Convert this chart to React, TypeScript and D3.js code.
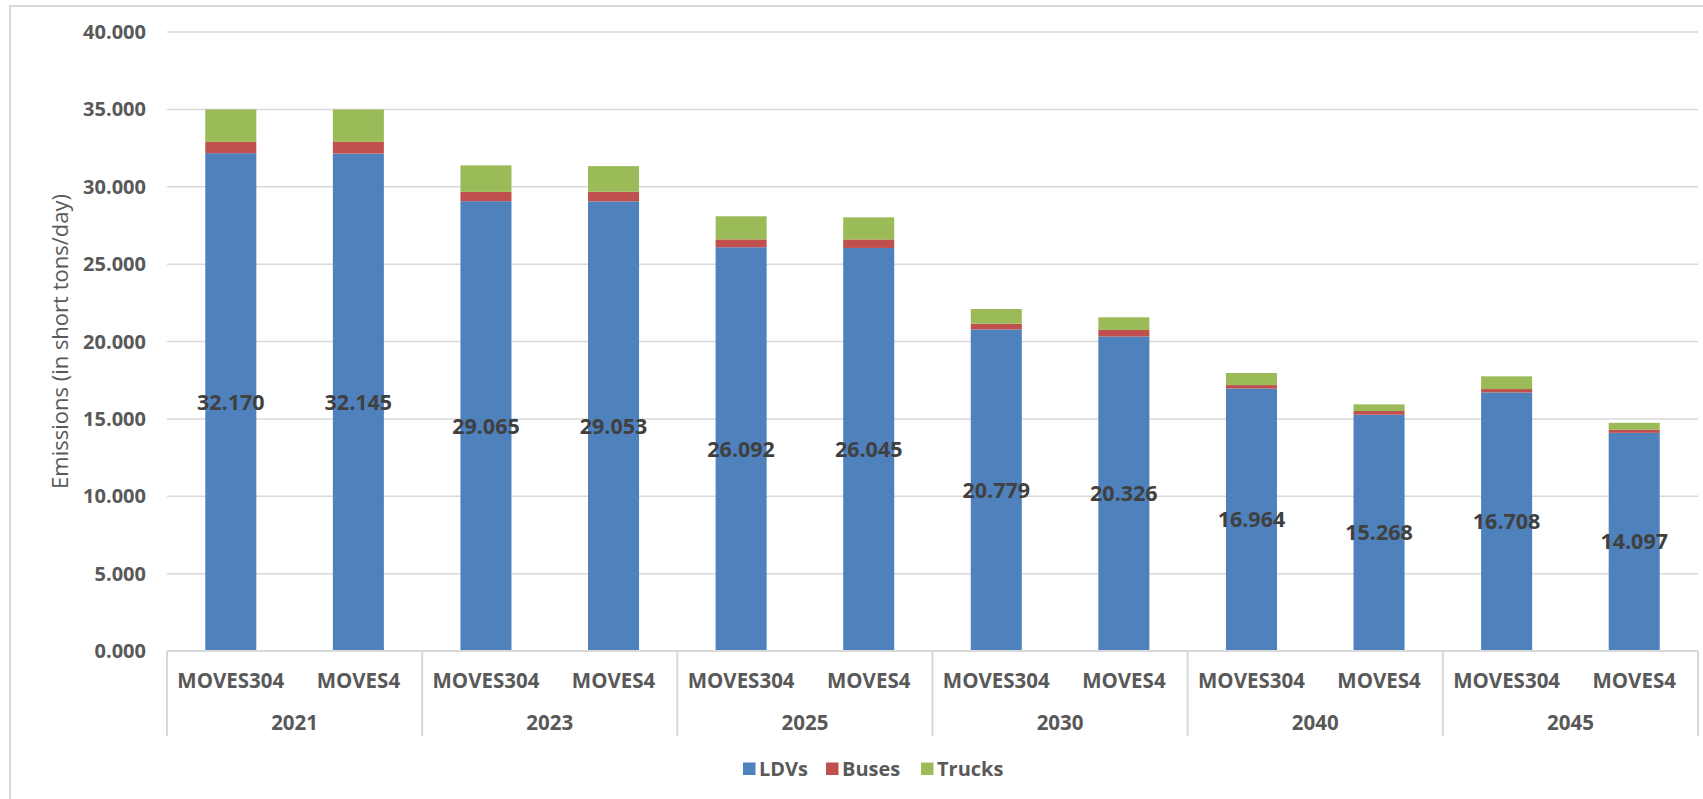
import React from "react";
import * as d3 from "d3";

const years = ["2021", "2023", "2025", "2030", "2040", "2045"];
const models = ["MOVES304", "MOVES4"];
const ldvs = [32.17, 32.145, 29.065, 29.053, 26.092, 26.045, 20.779, 20.326, 16.964, 15.268, 16.708, 14.097];
const buses = [0.73, 0.75, 0.6, 0.62, 0.51, 0.55, 0.37, 0.42, 0.22, 0.24, 0.22, 0.2];
const trucks = [2.1, 2.1, 1.72, 1.66, 1.49, 1.43, 0.95, 0.82, 0.78, 0.43, 0.82, 0.45];
const yTicks = [0, 5, 10, 15, 20, 25, 30, 35, 40];
const seriesNames = ["LDVs", "Buses", "Trucks"];
const seriesColors = ["#4F81BD", "#C0504D", "#9BBB59"];

const W = 1703;
const H = 799;
const FONT = "'Open Sans', sans-serif";

export default function App() {
  const cats = years.flatMap((y) => models.map((m) => `${y}|${m}`));
  const rows = cats.map((c, i) => ({ key: c, LDVs: ldvs[i], Buses: buses[i], Trucks: trucks[i] }));
  const stack = d3.stack<any>().keys(seriesNames)(rows);

  const x = d3.scaleBand<string>().domain(cats).range([167, 1698]).paddingInner(0.6).paddingOuter(0.3);
  const y = d3.scaleLinear().domain([0, 40]).range([651, 32]);
  const step = x.step();
  const groupW = step * models.length;
  const x0 = 167;
  const fmt = d3.format(".3f");

  const legendItems = seriesNames.map((n, i) => ({ n, c: seriesColors[i] }));
  const legendX = [743, 826, 921];

  return (
    <svg width={W} height={H} style={{ position: "absolute", left: 0, top: 0, background: "#fff" }} fontFamily={FONT}>
      <rect x={10} y={6} width={W + 20} height={H + 20} fill="#fff" stroke="#d9d9d9" strokeWidth={2} />
      {yTicks.map((t) => (
        <g key={t}>
          <line x1={167} x2={1698} y1={y(t)} y2={y(t)} stroke="#d9d9d9" strokeWidth={1.5} />
          <text x={146} y={y(t)} dy="0.35em" textAnchor="end" fontSize={20} fontWeight={700} fill="#595959">
            {fmt(t)}
          </text>
        </g>
      ))}
      <text
        transform={`translate(68,${(y(0) + y(40)) / 2}) rotate(-90)`}
        textAnchor="middle"
        fontSize={22}
        fill="#595959"
      >
        Emissions (in short tons/day)
      </text>
      {stack.map((s, si) => (
        <g key={s.key} fill={seriesColors[si]}>
          {s.map((d, i) => (
            <rect
              key={i}
              x={x(cats[i])}
              width={x.bandwidth()}
              y={y(d[1])}
              height={y(d[0]) - y(d[1])}
            />
          ))}
        </g>
      ))}
      {ldvs.map((v, i) => (
        <text
          key={i}
          x={(x(cats[i]) as number) + x.bandwidth() / 2}
          y={(y(0) + y(v)) / 2}
          dy="0.35em"
          textAnchor="middle"
          fontSize={21.5}
          fontWeight={700}
          fill="#404040"
        >
          {fmt(v)}
        </text>
      ))}
      <line x1={167} x2={1698} y1={y(0)} y2={y(0)} stroke="#d9d9d9" strokeWidth={2} />
      {d3.range(years.length + 1).map((k) => (
        <line key={k} x1={x0 + k * groupW} x2={x0 + k * groupW} y1={y(0)} y2={736} stroke="#d9d9d9" strokeWidth={2} />
      ))}
      {cats.map((c, i) => (
        <text
          key={c}
          x={(x(c) as number) + x.bandwidth() / 2}
          y={688}
          textAnchor="middle"
          fontSize={20.5}
          fontWeight={700}
          fill="#595959"
        >
          {models[i % 2]}
        </text>
      ))}
      {years.map((yr, k) => (
        <text key={yr} x={x0 + k * groupW + groupW / 2} y={730} textAnchor="middle" fontSize={20.5} fontWeight={700} fill="#595959">
          {yr}
        </text>
      ))}
      {legendItems.map((it, i) => (
        <g key={it.n} transform={`translate(${legendX[i]},769)`}>
          <rect x={0} y={-6.5} width={12.5} height={12.5} fill={it.c} />
          <text x={16} y={0} dy="0.35em" fontSize={20} fontWeight={700} fill="#595959">
            {it.n}
          </text>
        </g>
      ))}
    </svg>
  );
}
